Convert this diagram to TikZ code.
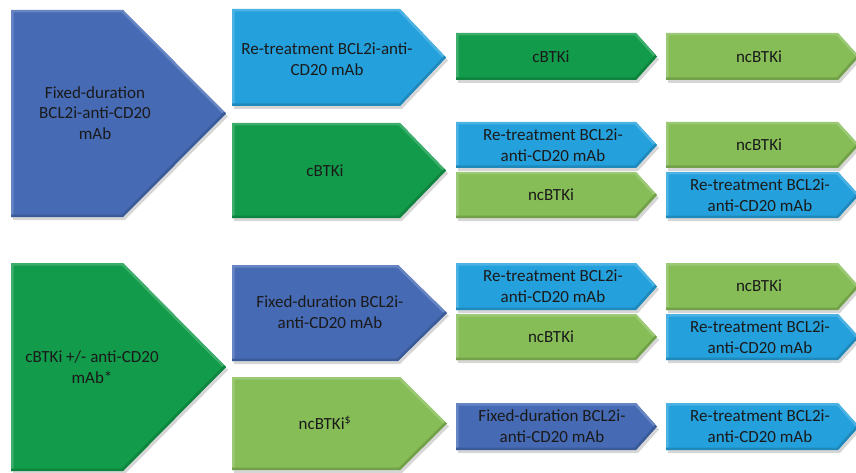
\documentclass[tikz,border=0pt]{standalone}
\usepackage{fontspec}
\setmainfont{Carlito}
\usetikzlibrary{positioning}

\definecolor{darkblue}{RGB}{70,106,180}
\definecolor{lightblue}{RGB}{36,161,221}
\definecolor{darkgreen}{RGB}{18,155,74}
\definecolor{lightgreen}{RGB}{134,189,86}
\definecolor{textgray}{RGB}{26,26,26}

% chevron: left, top, shoulder, tip, bottom, colour
\newcommand{\chev}[6]{%
  \fill[black,opacity=.16,shift={(2,3)}] (#1,#2) -- (#3,#2) -- (#4,{(#2+#5)/2}) -- (#3,#5) -- (#1,#5) -- cycle;
  \begin{scope}
    \clip (#1,#2) -- (#3,#2) -- (#4,{(#2+#5)/2}) -- (#3,#5) -- (#1,#5) -- cycle;
    \fill[#6] (#1,#2) rectangle (#4,#5);
    \draw[line width=5pt,#6!82!white] (#1,#5) -- (#1,#2) -- (#3,#2) -- (#4,{(#2+#5)/2});
    \draw[line width=5pt,#6!85!black] (#4,{(#2+#5)/2}) -- (#3,#5) -- (#1,#5);
  \end{scope}}

\begin{document}
\begin{tikzpicture}[x=1pt,y=-1pt,every node/.style={font=\fontsize{17}{20.5}\selectfont,text=textgray,align=center}]
\useasboundingbox (0,0) rectangle (856,473);
% first line
\chev{11}{10}{123}{226}{217}{darkblue}
\chev{232}{9}{400}{446}{106}{lightblue}
\chev{232}{123}{400}{446}{218}{darkgreen}
\chev{456}{33}{636}{657}{80}{darkgreen}
\chev{666}{33}{838}{859}{80}{lightgreen}
\chev{456}{122}{636}{657}{168}{lightblue}
\chev{456}{172}{636}{657}{218}{lightgreen}
\chev{666}{122}{838}{859}{168}{lightgreen}
\chev{666}{172}{838}{859}{218}{lightblue}
% second line
\chev{11}{263}{123}{226}{471}{darkgreen}
\chev{232}{265}{398}{447}{361}{darkblue}
\chev{232}{377}{400}{447}{470}{lightgreen}
\chev{456}{263}{636}{657}{310}{lightblue}
\chev{456}{314}{636}{657}{360}{lightgreen}
\chev{456}{403}{636}{657}{450}{darkblue}
\chev{666}{263}{838}{859}{310}{lightgreen}
\chev{666}{314}{838}{859}{360}{lightblue}
\chev{666}{403}{838}{859}{450}{lightblue}

\node (fdmain) at (95,113) {Fixed-duration\\BCL2i-anti-CD20\\mAb};
\node (rtA) at (327,59) {Re-treatment BCL2i-anti-\\CD20 mAb};
\node (cbA) at (325,171) {cBTKi};
\node (cbB) at (551,57) {cBTKi};
\node (ncB) at (759,57) {ncBTKi};
\node (rtB) at (553,145) {Re-treatment BCL2i-\\anti-CD20 mAb};
\node (ncC) at (551,195) {ncBTKi};
\node (ncD) at (759,145) {ncBTKi};
\node (rtD) at (760,195) {Re-treatment BCL2i-\\anti-CD20 mAb};

\node (cbmain) at (92,367) {cBTKi +/- anti-CD20\\mAb*};
\node (fdA) at (330,312) {Fixed-duration BCL2i-\\anti-CD20 mAb};
\node (ncA) at (325,423) {ncBTKi\textsuperscript{\$}};
\node (rtE) at (553,286) {Re-treatment BCL2i-\\anti-CD20 mAb};
\node (ncE) at (551,337) {ncBTKi};
\node (fdE) at (552,426) {Fixed-duration BCL2i-\\anti-CD20 mAb};
\node (ncF) at (759,286) {ncBTKi};
\node (rtF) at (760,337) {Re-treatment BCL2i-\\anti-CD20 mAb};
\node (rtG) at (760,426) {Re-treatment BCL2i-\\anti-CD20 mAb};
\end{tikzpicture}
\end{document}
